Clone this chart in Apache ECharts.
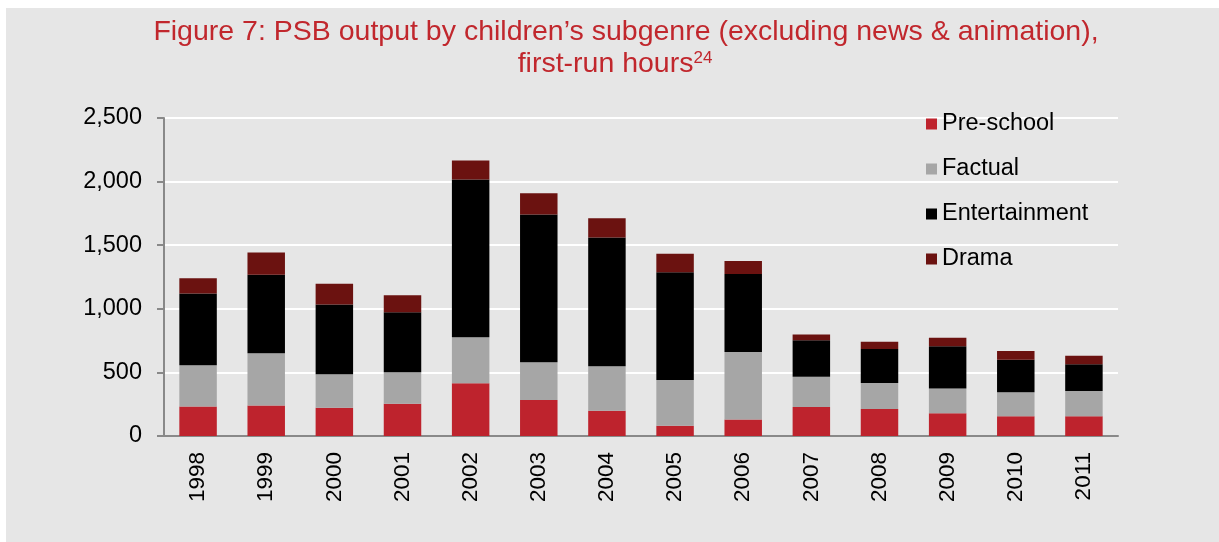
<!DOCTYPE html>
<html>
<head>
<meta charset="utf-8">
<script src="https://cdn.jsdelivr.net/npm/echarts@6/dist/echarts.min.js"></script>
<style>
  html, body { margin: 0; padding: 0; background: #ffffff; }
  #chart { position: absolute; left: 6px; top: 8px; width: 1213px; height: 534px; background: #e6e6e6; }
</style>
</head>
<body>
<div id="chart"></div>
<script>
// First-run hours of children's output by subgenre, 1998–2011
const years = ['1998','1999','2000','2001','2002','2003','2004','2005','2006','2007','2008','2009','2010','2011'];
const preSchool     = [231, 239, 223, 254, 414, 283, 199,  81, 129, 228, 213, 179, 155, 155];
const factual       = [325, 411, 262, 247, 362, 296, 349, 359, 532, 237, 204, 194, 189, 199];
const entertainment = [564, 617, 548, 472, 1240, 1162, 1012, 847, 612, 288, 266, 333, 255, 210];
const drama         = [121, 176, 163, 134, 150, 168, 152, 145, 103,  45,  57,  66,  70,  66];

const FONT = '"Liberation Sans", Arial, sans-serif';
const chart = echarts.init(document.getElementById('chart'), null, { renderer: 'canvas' });

function bar(name, data, color) {
  return {
    name: name,
    type: 'bar',
    stack: 'total',
    barWidth: '55%',
    data: data,
    itemStyle: { color: color },
    emphasis: { disabled: true }
  };
}

chart.setOption({
  backgroundColor: '#e6e6e6',
  animation: false,
  textStyle: { fontFamily: FONT },
  graphic: [
    {
      type: 'text', x: 620, y: 10,
      style: {
        text: 'Figure 7: PSB output by children\u2019s subgenre (excluding news & animation),',
        font: '28.5px ' + FONT, fill: '#c1272d', align: 'center'
      }
    },
    {
      type: 'text', x: 609, y: 42,
      style: {
        text: 'first-run hours{sup|24}',
        font: '28.5px ' + FONT, fill: '#c1272d', align: 'center',
        rich: { sup: { fontSize: 17, fontFamily: FONT, fill: '#c1272d', verticalAlign: 'top', padding: [0, 0, 11, 0] } }
      }
    }
  ],
  legend: {
    orient: 'vertical',
    left: 915,
    top: 99,
    itemWidth: 11,
    itemHeight: 11,
    itemGap: 21,
    icon: 'rect',
    textStyle: { fontFamily: FONT, fontSize: 23.5, color: '#000000', lineHeight: 23 },
    data: ['Pre-school', 'Factual', 'Entertainment', 'Drama']
  },
  grid: { left: 158, right: 101, top: 110, bottom: 106 },
  xAxis: {
    type: 'category',
    data: years,
    axisLine: { lineStyle: { color: '#898989', width: 2 } },
    axisTick: { show: false },
    axisLabel: { rotate: 90, margin: 16, fontSize: 22.5, color: '#000000', fontFamily: FONT }
  },
  yAxis: {
    type: 'value',
    min: 0, max: 2500, interval: 500,
    axisLine: { show: true, lineStyle: { color: '#898989', width: 2 } },
    axisTick: { show: true, length: 7, lineStyle: { color: '#898989', width: 2 } },
    splitLine: { show: true, lineStyle: { color: '#ffffff', width: 2 } },
    axisLabel: {
      margin: 22, fontSize: 23.5, color: '#000000', fontFamily: FONT,
      padding: [4, 0, 0, 0],
      formatter: v => v.toLocaleString('en-US')
    }
  },
  series: [
    bar('Pre-school', preSchool, '#be232d'),
    bar('Factual', factual, '#a6a6a6'),
    bar('Entertainment', entertainment, '#000000'),
    bar('Drama', drama, '#6b1210')
  ]
});
</script>
</body>
</html>
